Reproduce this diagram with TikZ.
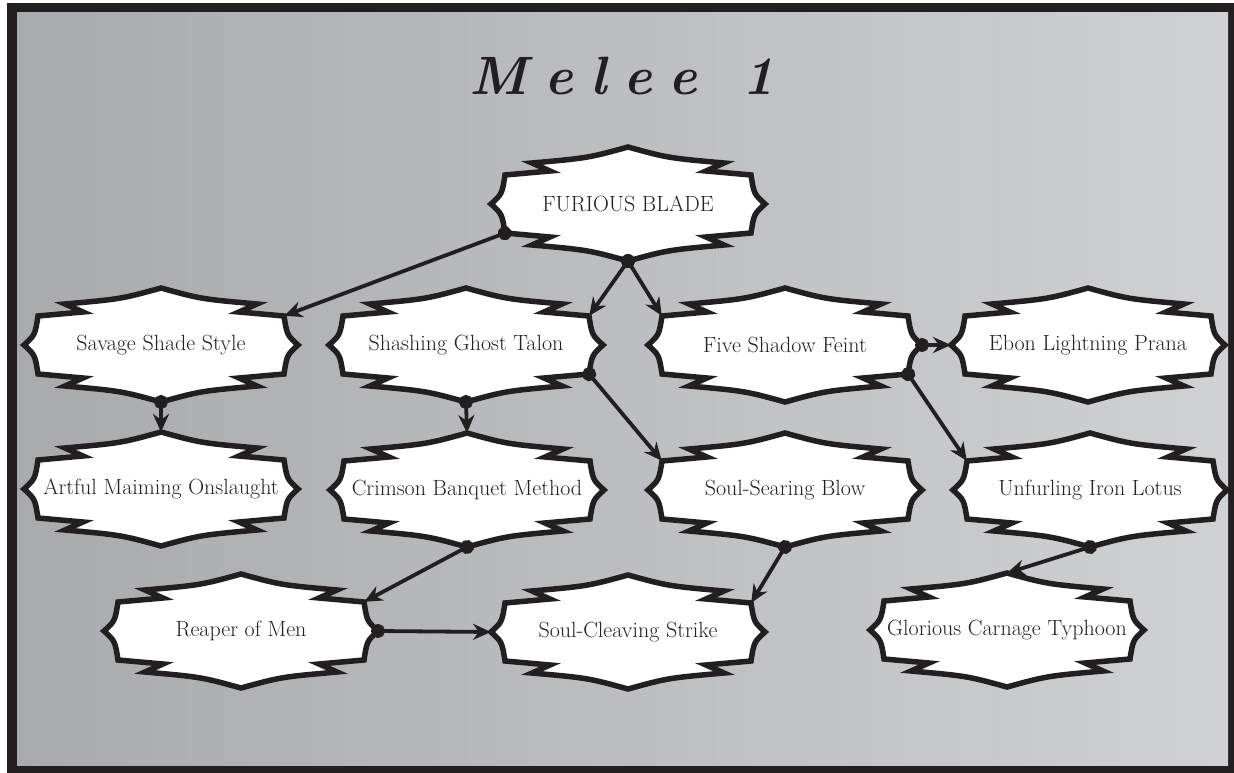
\documentclass[tikz,border=0pt]{standalone}
\usepackage{fontspec}
\usepackage{tikz}
\usetikzlibrary{arrows.meta}

\definecolor{frame}{RGB}{35,31,32}
\definecolor{stoneL}{RGB}{168,170,174}
\definecolor{stoneR}{RGB}{208,209,212}

\pgfdeclarelayer{stone}
\pgfdeclarelayer{outline}
\pgfsetlayers{stone,outline,main}

\newcommand{\spread}{\hspace{17pt}}

\tikzset{
  blade/.style={minimum width=246pt,minimum height=58pt,inner sep=0pt,text=frame,font=\fontsize{22}{26}\selectfont},
  bladeline/.style={draw=frame,fill=white,line width=5.5pt,line join=miter},
  link/.style={draw=frame,line width=3.8pt,{Circle[length=14pt]}-{Stealth[length=18pt,width=16pt]},shorten <=-7pt},
}

\begin{document}
\begin{tikzpicture}[x=1pt,y=-1pt]
\begin{pgfonlayer}{stone}
\fill[white] (0,0) rectangle (1234,773);
\fill[frame] (7,3) rectangle (1234,773);
\shade[left color=stoneL,right color=stoneR] (17,13) rectangle (1228,765);
\end{pgfonlayer}

\node[text=frame] (title) at (622,76) {\fontsize{54}{60}\selectfont\bfseries\itshape M\spread e\spread l\spread e\spread e\hspace{45pt}\oldstylenums{1}};

% top
\node[blade] (fb) at (628,204) {FURIOUS BLADE};
% second row
\node[blade] (sss) at (161,345) {Savage Shade Style};
\node[blade] (sgt) at (466,345) {Shashing Ghost Talon};
\node[blade] (fsf) at (785,345) {Five Shadow Feint};
\node[blade] (elp) at (1088,345) {Ebon Lightning Prana};
% third row
\node[blade] (amo) at (161,489) {Artful Maiming Onslaught};
\node[blade] (cbm) at (467,490) {Crimson Banquet Method};
\node[blade] (ssb) at (785,490) {Soul-Searing Blow};
\node[blade] (uil) at (1090,490) {Unfurling Iron Lotus};
% bottom row
\node[blade] (rom) at (241,631) {Reaper of Men};
\node[blade] (scs) at (628,632) {Soul-Cleaving Strike};
\node[blade] (gct) at (1007,630) {Glorious Carnage Typhoon};

% ornate outlines behind the text
\begin{pgfonlayer}{outline}
\foreach \n in {fb,sss,sgt,fsf,elp,amo,cbm,ssb,uil,rom,scs,gct}{
\begin{scope}[shift={(\n.center)}]
\draw[bladeline] (-137,0) .. controls (-126,-10) .. (-123,-29) -- (-78,-33) -- (-96,-41)
  .. controls (-40,-46) .. (0,-57) .. controls (40,-46) .. (96,-41) -- (78,-33) -- (123,-29)
  .. controls (126,-10) .. (137,0) .. controls (126,10) .. (123,29) -- (78,33) -- (96,41)
  .. controls (40,46) .. (0,57) .. controls (-40,46) .. (-96,41) -- (-78,33) -- (-123,29)
  .. controls (-126,10) .. cycle;
\coordinate (\n-top) at (0,-57);
\coordinate (\n-bot) at (0,57);
\coordinate (\n-l) at (-137,0);
\coordinate (\n-r) at (137,0);
\end{scope}
}
\end{pgfonlayer}

\draw[link] (fb.south west) -- (sss.north east);
\draw[link] (fb-bot) -- (sgt.north east);
\draw[link] (fb-bot) -- (fsf.north west);
\draw[link] (sss-bot) -- (amo-top);
\draw[link] (sgt-bot) -- (cbm-top);
\draw[link] (sgt.south east) -- (ssb.north west);
\draw[link] (fsf-r) -- (elp-l);
\draw[link] (fsf.south east) -- (uil.north west);
\draw[link] (cbm-bot) -- (rom.north east);
\draw[link] (ssb-bot) -- (scs.north east);
\draw[link] (rom-r) -- (scs-l);
\draw[link] (uil-bot) -- (gct-top);
\end{tikzpicture}
\end{document}
